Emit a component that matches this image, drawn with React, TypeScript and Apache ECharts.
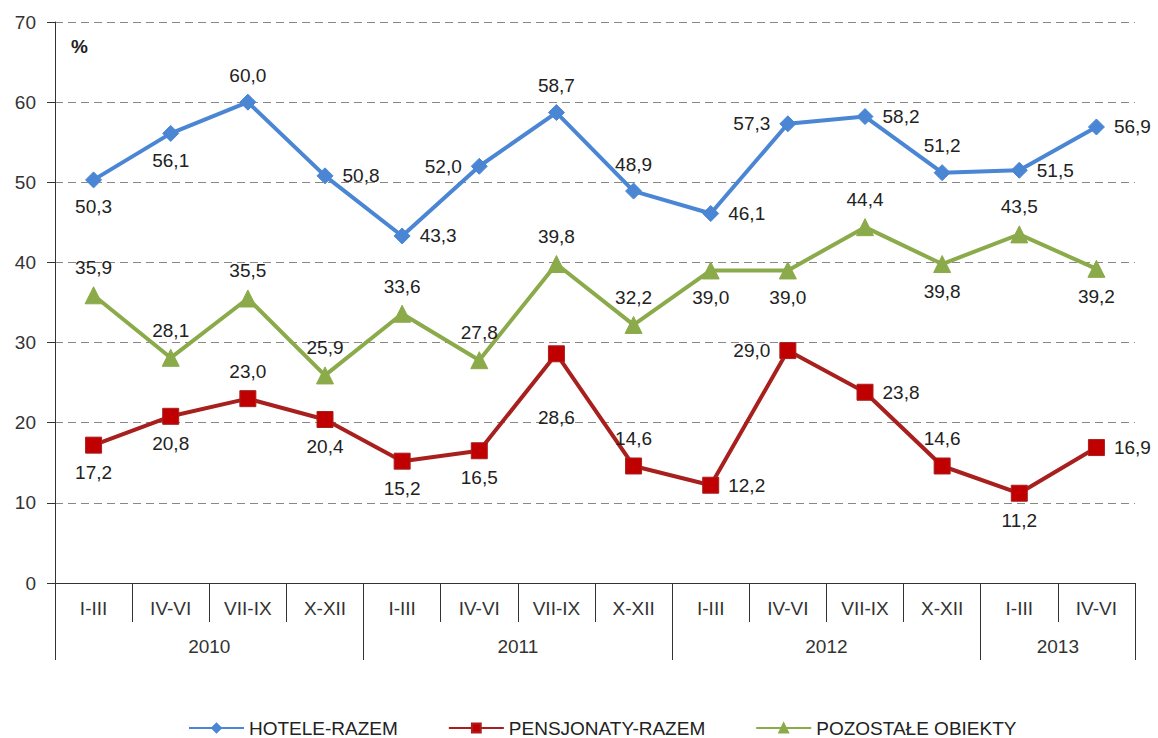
import React, { useEffect, useRef } from "react";
import * as echarts from "echarts";

const quarters = ["I-III", "IV-VI", "VII-IX", "X-XII", "I-III", "IV-VI", "VII-IX", "X-XII", "I-III", "IV-VI", "VII-IX", "X-XII", "I-III", "IV-VI"];
const yearSlots = ["", "", "2010", "", "", "", "2011", "", "", "", "2012", "", "", "2013", ""];
const yearLabelIdx = [2, 6, 10, 13];
const yearTickIdx = [0, 4, 8, 12, 14];

const hotele = [50.3, 56.1, 60.0, 50.8, 43.3, 52.0, 58.7, 48.9, 46.1, 57.3, 58.2, 51.2, 51.5, 56.9];
const pensjonaty = [17.2, 20.8, 23.0, 20.4, 15.2, 16.5, 28.6, 14.6, 12.2, 29.0, 23.8, 14.6, 11.2, 16.9];
const pozostale = [35.9, 28.1, 35.5, 25.9, 33.6, 27.8, 39.8, 32.2, 39.0, 39.0, 44.4, 39.8, 43.5, 39.2];

const hotelePos = ["bottom", "bottom", "top", "right", "right", "left", "top", "top", "right", "left", "right", "top", "right", "right"];
const pensjonatyPos = ["bottom", "bottom", "top", "bottom", "bottom", "bottom", "bottom", "top", "right", "left", "right", "top", "bottom", "right"];
const pozostalePos = ["top", "top", "top", "top", "top", "top", "top", "top", "bottom", "bottom", "top", "bottom", "top", "bottom"];
const pensjonatyDist = [9, 9, 9, 9, 9, 9, 46, 9, 9, 9, 9, 9, 9, 9];

const fmt = (v: number) => v.toFixed(1).replace(".", ",");

export default function App() {
  const ref = useRef<HTMLDivElement>(null);
  useEffect(() => {
    if (!ref.current) return;
    const chart = echarts.init(ref.current, null, { renderer: "svg" });
    const font = "Liberation Sans, Arial, sans-serif";
    const mk = (name: string, vals: number[], pos: string[], dist: number[] | null, color: string, lineColor: string, symbol: string, size: number) => ({
      name,
      type: "line",
      data: vals.map((v, i) => ({ value: v, label: { position: pos[i], distance: dist ? dist[i] : 9 } })),
      symbol,
      symbolSize: size,
      lineStyle: { color: lineColor, width: 4 },
      itemStyle: { color, borderColor: lineColor, borderWidth: 1 },
      label: {
        show: true,
        formatter: (p: any) => fmt(p.value),
        fontFamily: font,
        fontSize: 19,
        color: "#222",
        distance: 9,
      },
      z: 3,
    });
    chart.setOption({
      animation: false,
      grid: { left: 55, right: 23, top: 22, bottom: 155, containLabel: false },
      graphic: [
        { type: "text", left: 71, top: 37, style: { text: "%", font: "bold 19px Liberation Sans, Arial, sans-serif", fill: "#222" } },
      ],
      legend: {
        left: 183,
        top: 712,
        itemWidth: 55,
        itemHeight: 11,
        itemGap: 50,
        textStyle: { fontFamily: font, fontSize: 19, color: "#222", lineHeight: 22 },
        data: ["HOTELE-RAZEM", "PENSJONATY-RAZEM", "POZOSTAŁE OBIEKTY"],
      },
      xAxis: [
        {
          type: "category",
          data: quarters,
          position: "bottom",
          boundaryGap: true,
          axisLine: { lineStyle: { color: "#333", width: 1 } },
          axisTick: { show: true, length: 39, lineStyle: { color: "#333" } },
          axisLabel: { interval: 0, fontFamily: font, fontSize: 19, color: "#333", margin: 16 },
        },
        {
          type: "category",
          data: yearSlots,
          position: "bottom",
          offset: 0,
          boundaryGap: false,
          axisLine: { show: false },
          axisTick: { show: true, length: 77, interval: (i: number) => yearTickIdx.includes(i), lineStyle: { color: "#333" } },
          axisLabel: { interval: (i: number) => yearLabelIdx.includes(i), fontFamily: font, fontSize: 19, color: "#333", margin: 54 },
        },
      ],
      yAxis: {
        type: "value",
        min: 0,
        max: 70,
        interval: 10,
        axisLine: { show: true, lineStyle: { color: "#333" } },
        axisTick: { show: true, length: 8, lineStyle: { color: "#333" } },
        axisLabel: { fontFamily: font, fontSize: 19, color: "#333", margin: 19 },
        splitLine: { show: true, lineStyle: { color: "#888", type: [8, 5], width: 1 } },
      },
      series: [
        mk("HOTELE-RAZEM", hotele, hotelePos, null, "#4A86D4", "#4A86D4", "diamond", 16),
        mk("PENSJONATY-RAZEM", pensjonaty, pensjonatyPos, pensjonatyDist, "#C00000", "#A8201E", "rect", 16),
        mk("POZOSTAŁE OBIEKTY", pozostale, pozostalePos, null, "#8BAA4A", "#8BAA4A", "triangle", 17),
      ],
    });
    return () => chart.dispose();
  }, []);
  return <div ref={ref} style={{ position: "fixed", left: 0, top: 0, width: 1158, height: 738, background: "#fff" }} />;
}
